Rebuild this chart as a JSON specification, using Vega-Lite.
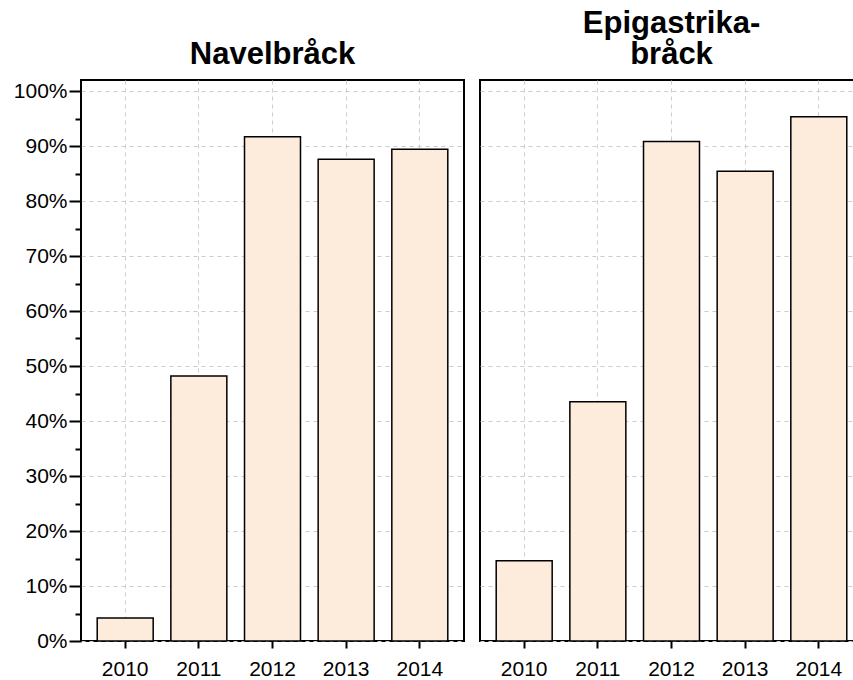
{
  "$schema": "https://vega.github.io/schema/vega-lite/v6.json",
  "background": "white",
  "padding": {"left": 12, "top": 7, "right": 0, "bottom": 5},
  "config": {
    "font": "Liberation Sans",
    "view": {"stroke": "black", "strokeWidth": 2},
    "concat": {"spacing": 14},
    "title": {"fontSize": 31, "fontWeight": "bold", "color": "black", "lineHeight": 31, "offset": 9, "anchor": "middle"},
    "axis": {"labelFont": "Liberation Sans", "labelFontSize": 21, "labelColor": "black", "tickColor": "black", "tickWidth": 2, "domain": false, "title": null, "gridColor": "#cccccc", "gridDash": [4, 4], "gridWidth": 1}
  },
  "data": {
    "values": [
      {"panel": "Navelbråck", "year": "2010", "value": 0.042},
      {"panel": "Navelbråck", "year": "2011", "value": 0.482},
      {"panel": "Navelbråck", "year": "2012", "value": 0.917},
      {"panel": "Navelbråck", "year": "2013", "value": 0.876},
      {"panel": "Navelbråck", "year": "2014", "value": 0.894},
      {"panel": "Epigastrika", "year": "2010", "value": 0.146},
      {"panel": "Epigastrika", "year": "2011", "value": 0.435},
      {"panel": "Epigastrika", "year": "2012", "value": 0.908},
      {"panel": "Epigastrika", "year": "2013", "value": 0.854},
      {"panel": "Epigastrika", "year": "2014", "value": 0.953}
    ]
  },
  "hconcat": [
    {
      "title": "Navelbråck",
      "width": 383,
      "height": 561,
      "transform": [{"filter": "datum.panel === 'Navelbråck'"}],
      "mark": {"type": "bar", "fill": "#fdebdc", "stroke": "black", "strokeWidth": 1.5},
      "encoding": {
        "x": {"field": "year", "type": "ordinal", "scale": {"paddingInner": 0.24, "paddingOuter": 0.22},
              "axis": {"labelAngle": 0, "bandPosition": 0.5, "tickSize": 7, "labelPadding": 10, "grid": true}},
        "y": {"field": "value", "type": "quantitative", "scale": {"domain": [0, 1.02], "nice": false},
              "axis": {"values": [0, 0.05, 0.1, 0.15, 0.2, 0.25, 0.3, 0.35, 0.4, 0.45, 0.5, 0.55, 0.6, 0.65, 0.7, 0.75, 0.8, 0.85, 0.9, 0.95, 1.0],
                       "format": ".0%",
                       "labelExpr": "round(datum.value*100) % 10 === 0 ? datum.label : ''",
                       "labelPadding": 2,
                       "tickSize": {"condition": {"test": "round(datum.value*100) % 10 === 0", "value": 12}, "value": 6},
                       "gridOpacity": {"condition": {"test": "round(datum.value*100) % 10 === 0", "value": 1}, "value": 0}}}
      }
    },
    {
      "title": {"text": ["Epigastrika-", "bråck"]},
      "width": 383,
      "height": 561,
      "transform": [{"filter": "datum.panel === 'Epigastrika'"}],
      "mark": {"type": "bar", "fill": "#fdebdc", "stroke": "black", "strokeWidth": 1.5},
      "encoding": {
        "x": {"field": "year", "type": "ordinal", "scale": {"paddingInner": 0.24, "paddingOuter": 0.22},
              "axis": {"labelAngle": 0, "bandPosition": 0.5, "tickSize": 7, "labelPadding": 10, "grid": true}},
        "y": {"field": "value", "type": "quantitative", "scale": {"domain": [0, 1.02], "nice": false},
              "axis": {"values": [0, 0.1, 0.2, 0.3, 0.4, 0.5, 0.6, 0.7, 0.8, 0.9, 1.0],
                       "labels": false, "ticks": false, "domain": false}}
      }
    }
  ]
}
